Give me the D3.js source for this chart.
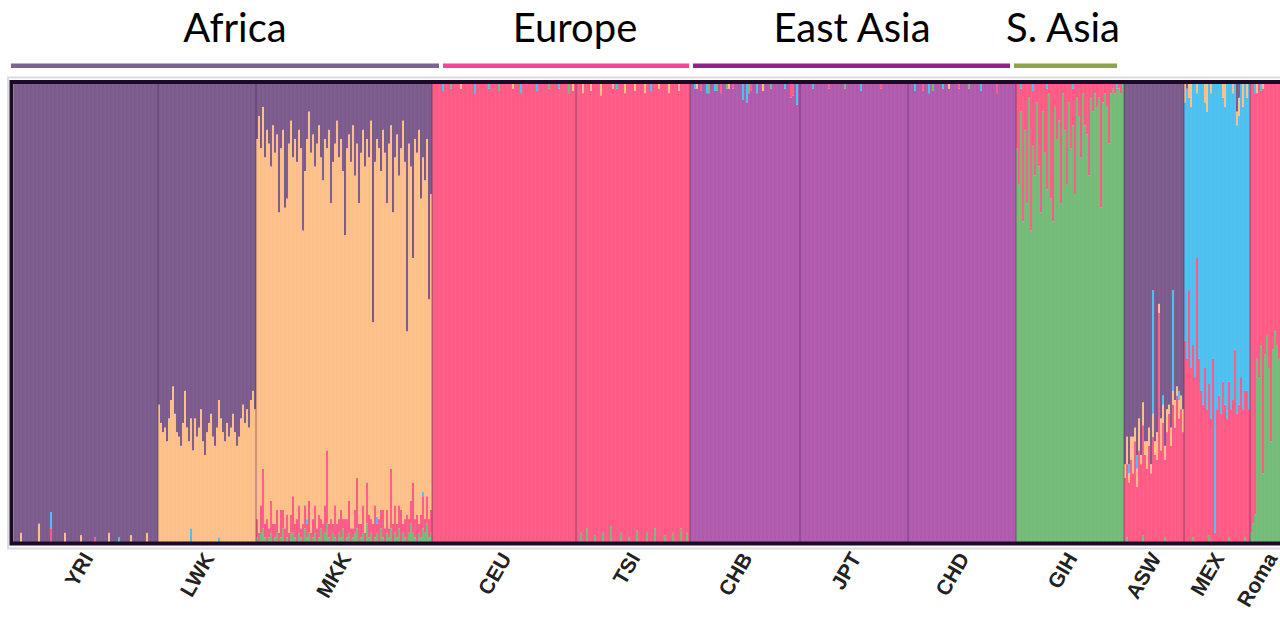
<!DOCTYPE html>
<html>
<head>
<meta charset="utf-8">
<script src="https://cdn.jsdelivr.net/npm/d3@7"></script>
<style>
  html, body { margin: 0; padding: 0; background: #ffffff; }
  svg { display: block; }
</style>
</head>
<body>
<svg id="chart" width="1280" height="620"></svg>
<script>
// ---------------- DATA ----------------
const components = ["purple", "orange", "pink", "magenta", "green", "blue"];
const compColors = ["#7b5a8c", "#fdbf88", "#fd5b86", "#b05aae", "#74bb78", "#4cc0ee"];

const popNames = ["YRI", "LWK", "MKK", "CEU", "TSI", "CHB", "JPT", "CHD", "GIH", "ASW", "MEX", "Roma"];
const popSizes = [72, 49, 88, 72, 57, 55, 54, 54, 54, 30, 33, 20];

const regionNames = ["Africa", "Europe", "East Asia", "S. Asia"];
const regionColors = ["#7a6590", "#f6439a", "#93228f", "#8da44b"];
const regionFrom = [-1.5, 214.5, 339.5, 500];   // in individual units
const regionTo = [212.5, 337.5, 498, 551.5];
const regionLabelAt = [110.5, 280.5, 419, 524.5];

// sparse lists: [individual index, proportion]
const yriOrange = [[3,0.02],[12,0.04],[25,0.02],[33,0.015],[47,0.02],[58,0.015],[66,0.02]];
const yriPink = [[18,0.03],[40,0.01]];
const yriBlue = [[18,0.035],[52,0.01]];

const lwkOrange = [0.30,0.26,0.24,0.25,0.22,0.27,0.31,0.34,0.28,0.24,
                   0.23,0.21,0.26,0.33,0.25,0.22,0.24,0.20,0.27,0.23,
                   0.25,0.29,0.22,0.19,0.24,0.26,0.28,0.23,0.21,0.25,
                   0.30,0.27,0.24,0.22,0.26,0.23,0.25,0.28,0.24,0.21,
                   0.23,0.27,0.30,0.26,0.29,0.25,0.31,0.33,0.29];
const lwkBlue = [[16,0.03],[30,0.01]];

const mkkPurple = [0.12,0.07,0.14,0.05,0.16,0.10,0.13,0.18,0.09,0.15,
                   0.11,0.28,0.14,0.10,0.27,0.25,0.13,0.08,0.16,0.12,
                   0.17,0.10,0.14,0.32,0.19,0.12,0.06,0.15,0.11,0.18,
                   0.13,0.09,0.16,0.21,0.12,0.14,0.10,0.26,0.17,0.13,
                   0.08,0.16,0.12,0.19,0.33,0.14,0.11,0.17,0.09,0.20,
                   0.13,0.26,0.15,0.10,0.18,0.12,0.16,0.08,0.52,0.17,
                   0.12,0.14,0.19,0.10,0.15,0.26,0.13,0.09,0.28,0.16,
                   0.11,0.20,0.14,0.08,0.17,0.54,0.13,0.18,0.38,0.12,
                   0.15,0.10,0.25,0.16,0.21,0.12,0.47,0.24];
const mkkPink = [0.04,0.02,0.06,0.13,0.03,0.05,0.02,0.07,0.04,0.03,
                 0.05,0.02,0.06,0.04,0.03,0.05,0.02,0.04,0.08,0.03,
                 0.05,0.06,0.02,0.04,0.05,0.03,0.07,0.02,0.04,0.06,
                 0.03,0.05,0.02,0.04,0.06,0.16,0.03,0.05,0.02,0.07,
                 0.04,0.03,0.06,0.02,0.05,0.04,0.07,0.03,0.02,0.05,
                 0.11,0.04,0.03,0.06,0.02,0.09,0.05,0.03,0.04,0.07,
                 0.02,0.05,0.04,0.06,0.03,0.05,0.02,0.13,0.04,0.06,
                 0.03,0.05,0.07,0.02,0.04,0.06,0.03,0.05,0.11,0.04,
                 0.06,0.02,0.05,0.07,0.03,0.06,0.04,0.05];
const mkkGreen = [0.01,0.00,0.02,0.03,0.01,0.00,0.01,0.02,0.00,0.01,
                  0.02,0.00,0.01,0.03,0.00,0.01,0.00,0.02,0.02,0.01,
                  0.00,0.02,0.01,0.00,0.03,0.01,0.02,0.00,0.01,0.02,
                  0.00,0.01,0.03,0.00,0.02,0.04,0.01,0.00,0.02,0.01,
                  0.00,0.02,0.01,0.03,0.00,0.01,0.02,0.00,0.01,0.02,
                  0.03,0.00,0.01,0.02,0.00,0.04,0.01,0.02,0.00,0.01,
                  0.02,0.00,0.03,0.01,0.00,0.02,0.01,0.03,0.00,0.02,
                  0.01,0.03,0.00,0.02,0.01,0.00,0.02,0.04,0.02,0.01,
                  0.00,0.02,0.01,0.03,0.02,0.04,0.01,0.02];
const mkkBlue = [[25,0.01],[60,0.015],[83,0.01]];

const ceuBlue = [[5,0.015],[21,0.02],[28,0.01],[44,0.02],[52,0.015],[63,0.01]];
const ceuGreen = [[9,0.01],[33,0.015],[58,0.01],[68,0.02]];
const ceuOrange = [[14,0.01],[40,0.01],[70,0.015]];

const tsiGreen = [[2,0.02],[5,0.03],[9,0.015],[13,0.02],[17,0.035],[22,0.02],[26,0.01],[30,0.025],
                  [35,0.02],[39,0.03],[44,0.015],[48,0.02],[52,0.03],[55,0.02]];
const tsiOrange = [[3,0.02],[7,0.015],[12,0.025],[18,0.01],[24,0.02],[29,0.015],[34,0.02],[41,0.01],[46,0.02],[51,0.015]];
const tsiBlue = [[20,0.01],[37,0.015]];

const chbBlue = [[2,0.01],[8,0.02],[12,0.015],[26,0.035],[28,0.04],[33,0.02],[47,0.01],[53,0.045]];
const chbPink = [[5,0.015],[15,0.02],[21,0.01],[30,0.015],[50,0.03],[51,0.025]];
const chbGreen = [[9,0.02],[13,0.015],[18,0.01],[29,0.02],[40,0.01]];
const chbOrange = [[3,0.01],[19,0.01],[36,0.015]];

const jptBlue = [[6,0.01],[30,0.015]];
const jptPink = [[14,0.01],[40,0.01]];
const jptGreen = [[22,0.01]];

const chdBlue = [[3,0.015],[10,0.02],[17,0.01],[36,0.015]];
const chdPink = [[7,0.015],[25,0.01],[44,0.02]];
const chdGreen = [[12,0.015],[30,0.01]];
const chdOrange = [[20,0.01]];

const gihPink = [0.14,0.22,0.05,0.30,0.10,0.26,0.03,0.32,0.12,0.20,
                 0.04,0.18,0.28,0.06,0.15,0.22,0.02,0.25,0.30,0.05,
                 0.12,0.08,0.26,0.02,0.10,0.22,0.04,0.14,0.08,0.24,
                 0.03,0.07,0.16,0.02,0.09,0.11,0.20,0.03,0.06,0.02,
                 0.05,0.03,0.27,0.04,0.02,0.05,0.13,0.02,0.01,0.02,
                 0.00,0.01,0.02,0.00];
const gihBlue = [[2,0.01],[8,0.015],[15,0.01],[28,0.01],[50,0.01]];

const aswPink = [0.14,0.16,0.13,0.18,0.15,0.22,0.12,0.20,0.17,0.24,
                 0.19,0.16,0.21,0.15,0.23,0.19,0.18,0.50,0.20,0.26,
                 0.17,0.24,0.28,0.21,0.30,0.25,0.32,0.27,0.29,0.24];
const aswOrange = [0.03,0.06,0.02,0.05,0.08,0.03,0.04,0.07,0.02,0.05,
                   0.03,0.06,0.04,0.02,0.05,0.03,0.06,0.02,0.07,0.04,
                   0.03,0.05,0.02,0.04,0.03,0.06,0.02,0.04,0.03,0.05];
const aswBlue = [[2,0.02],[6,0.03],[14,0.27],[19,0.02],[24,0.22],[27,0.02]];
const aswGreen = [[1,0.01],[9,0.015],[20,0.01]];

const mexPink = [0.44,0.40,0.55,0.38,0.42,0.36,0.62,0.40,
                 0.33,0.30,0.38,0.29,0.33,0.27,0.40,0.02,0.29,0.32,0.28,0.35,
                 0.30,0.27,0.34,0.29,0.31,0.42,0.28,0.30,0.36,0.29,0.32,0.33,0.29];
const mexOrange = [[0,0.04],[2,0.03],[3,0.05],[6,0.02],[10,0.04],[11,0.06],[13,0.02],[19,0.03],
                   [20,0.05],[24,0.02],[26,0.03],[27,0.04],[29,0.05],[31,0.03]];
const mexPurple = [[1,0.01],[26,0.06],[27,0.03]];
const mexGreen = [[4,0.01],[12,0.015],[22,0.01],[30,0.01]];

const romaGreen = [0.02,0.04,0.06,0.40,0.36,0.43,0.15,0.41,0.45,0.38,
                   0.22,0.42,0.46,0.43,0.40,0.44,0.41,0.38,0.43,0.40];
const romaBlue = [[2,0.02],[5,0.015]];
const romaOrange = [[3,0.02],[6,0.01]];

// layer order (bottom -> top) per population; "main" fills the remainder
const popLayers = [
  [["orange", yriOrange], ["pink", yriPink], ["blue", yriBlue], ["purple", "main"]],
  [["blue", lwkBlue], ["orange", lwkOrange], ["purple", "main"]],
  [["green", mkkGreen], ["pink", mkkPink], ["blue", mkkBlue], ["orange", "main"], ["purple", mkkPurple]],
  [["pink", "main"], ["orange", ceuOrange], ["green", ceuGreen], ["blue", ceuBlue]],
  [["green", tsiGreen], ["pink", "main"], ["orange", tsiOrange], ["blue", tsiBlue]],
  [["magenta", "main"], ["green", chbGreen], ["pink", chbPink], ["orange", chbOrange], ["blue", chbBlue]],
  [["magenta", "main"], ["green", jptGreen], ["pink", jptPink], ["blue", jptBlue]],
  [["magenta", "main"], ["green", chdGreen], ["pink", chdPink], ["orange", chdOrange], ["blue", chdBlue]],
  [["green", "main"], ["pink", gihPink], ["blue", gihBlue]],
  [["green", aswGreen], ["pink", aswPink], ["orange", aswOrange], ["blue", aswBlue], ["purple", "main"]],
  [["green", mexGreen], ["pink", mexPink], ["blue", "main"], ["orange", mexOrange], ["purple", mexPurple]],
  [["green", romaGreen], ["pink", "main"], ["blue", romaBlue], ["orange", romaOrange]]
];

// ---------------- BUILD TABLE ----------------
function valueAt(spec, i) {
  if (spec.length && Array.isArray(spec[0])) {
    const hit = spec.find(p => p[0] === i);
    return hit ? hit[1] : 0;
  }
  return spec[i] || 0;
}

const segments = [];
const popStart = [];
let gi = 0;
popNames.forEach((pop, p) => {
  popStart.push(gi);
  for (let k = 0; k < popSizes[p]; k++) {
    const layers = popLayers[p];
    let others = 0;
    layers.forEach(([c, spec]) => { if (spec !== "main") others += valueAt(spec, k); });
    let acc = 0;
    layers.forEach(([c, spec]) => {
      const v = spec === "main" ? Math.max(0, 1 - others) : valueAt(spec, k);
      if (v > 0) {
        segments.push({ ind: gi, comp: c, y0: acc, y1: acc + v, odd: k % 2 });
        acc += v;
      }
    });
    gi++;
  }
});
const N = gi;

// ---------------- DRAW ----------------
const svg = d3.select("#chart");
const x = d3.scaleLinear().domain([0, N]).range([14, 14 + 2 * N]);
const y = d3.scaleLinear().domain([0, 1]).range([542, 84]);
const color = d3.scaleOrdinal().domain(components).range(compColors);

// region headers
const regG = svg.append("g");
regionNames.forEach((r, i) => {
  regG.append("rect")
    .attr("x", x(regionFrom[i]))
    .attr("y", 63.5)
    .attr("width", x(regionTo[i]) - x(regionFrom[i]))
    .attr("height", 4.5)
    .attr("fill", regionColors[i]);
  regG.append("text")
    .attr("x", x(regionLabelAt[i]))
    .attr("y", 42)
    .attr("text-anchor", "middle")
    .attr("font-family", "Lato, 'Open Sans', sans-serif")
    .attr("font-size", 40)
    .attr("fill", "#000")
    .text(r);
});

// shadow + plot
svg.append("rect")
  .attr("x", x(0) - 6).attr("y", 77.5)
  .attr("width", 2 * N + 20).attr("height", 548.5 - 77.5)
  .attr("fill", "none").attr("stroke", "#dcdcdc").attr("stroke-width", 2);

const plot = svg.append("g");
plot.selectAll("rect.seg")
  .data(segments)
  .join("rect")
  .attr("class", "seg")
  .attr("x", d => x(d.ind))
  .attr("width", d => x(d.ind + 1) - x(d.ind) + 0.4)
  .attr("y", d => y(d.y1))
  .attr("height", d => Math.max(0, y(d.y0) - y(d.y1)))
  .attr("fill", d => color(d.comp))
  .attr("fill-opacity", d => d.odd ? 0.97 : 1);

// population dividers
plot.selectAll("line.div")
  .data(popStart.slice(1))
  .join("line")
  .attr("class", "div")
  .attr("x1", d => x(d)).attr("x2", d => x(d))
  .attr("y1", y(1)).attr("y2", y(0))
  .attr("stroke", "#4a2a55").attr("stroke-opacity", 0.55).attr("stroke-width", 1);

// frame
svg.append("rect")
  .attr("x", x(0) - 2.5).attr("y", 82)
  .attr("width", 2 * N + 10).attr("height", 543.5 - 82)
  .attr("fill", "none").attr("stroke", "#1b0a26").attr("stroke-width", 4);

// population labels
const lab = svg.append("g");
popNames.forEach((p, i) => {
  const cx = x(popStart[i] + popSizes[i] / 2) + 8;
  lab.append("text")
    .attr("transform", `translate(${cx},558) rotate(-60)`)
    .attr("text-anchor", "end")
    .attr("font-family", "'Liberation Sans', Arial, sans-serif")
    .attr("font-weight", "bold")
    .attr("font-size", 21)
    .attr("fill", "#222")
    .text(p);
});
</script>
</body>
</html>
